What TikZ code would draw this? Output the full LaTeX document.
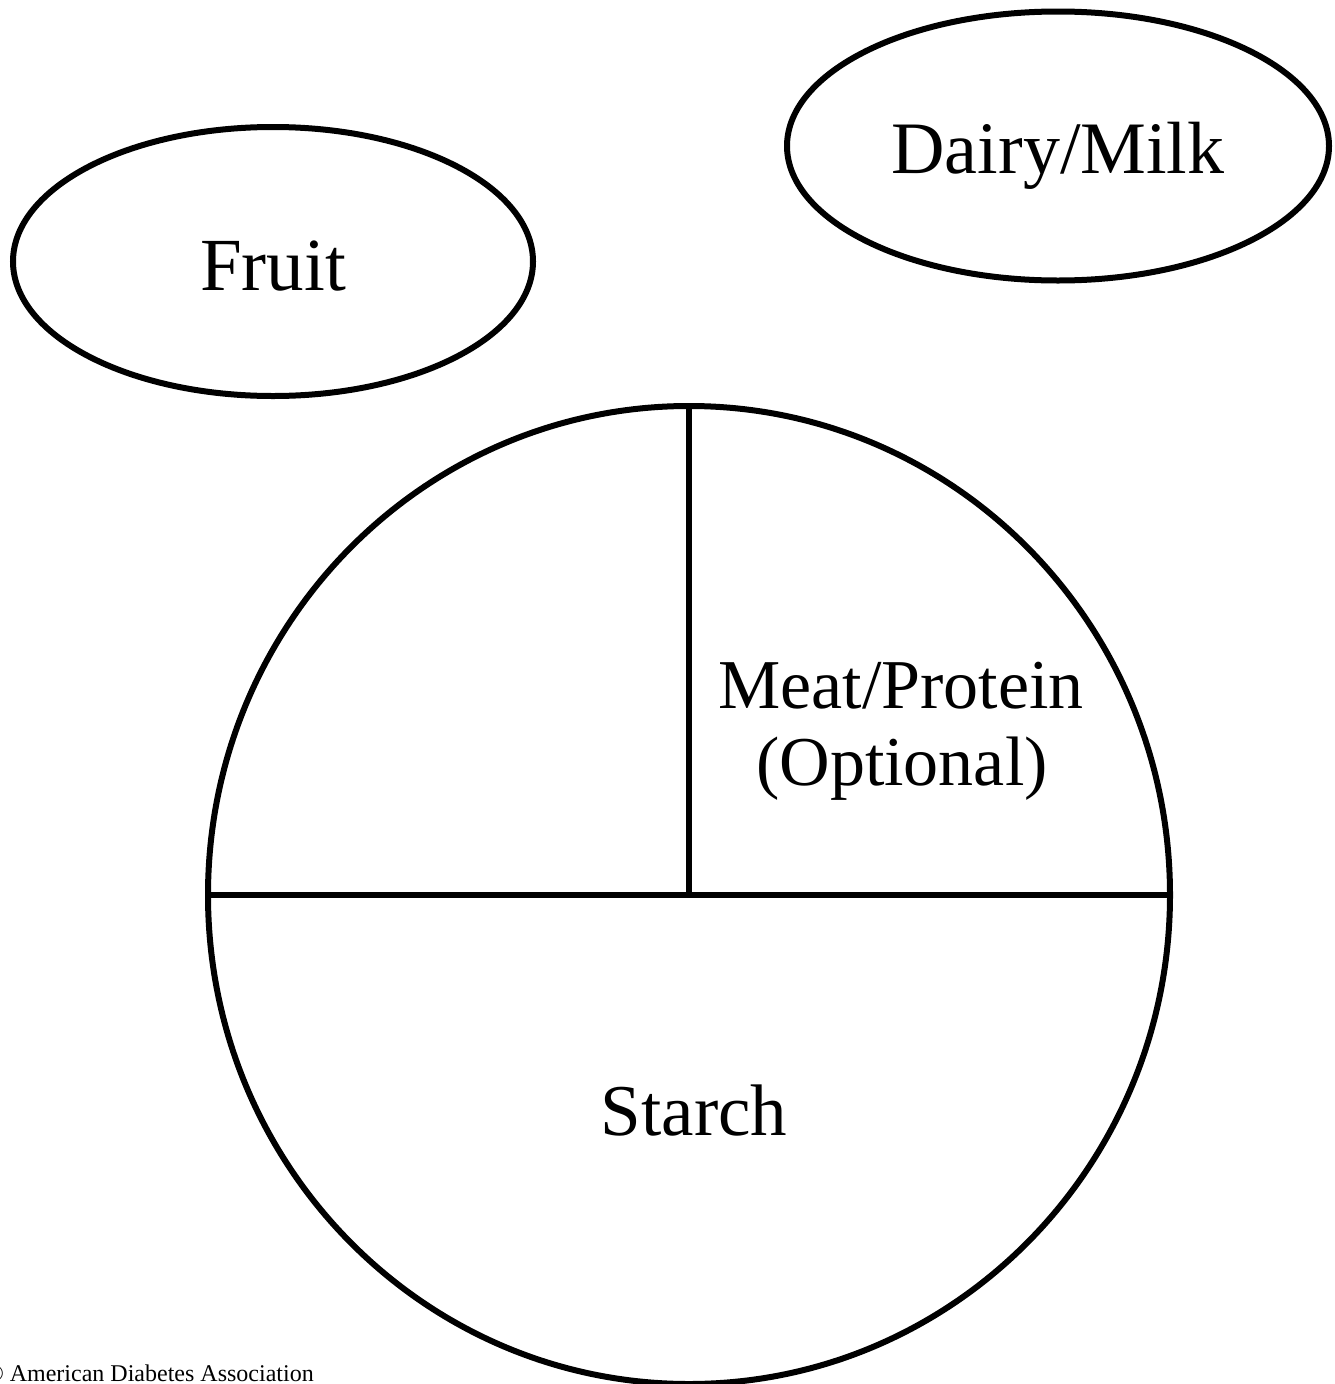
\documentclass[tikz,border=0pt]{standalone}
\usepackage{fontspec}
\setmainfont{Liberation Serif}
\usetikzlibrary{shapes.geometric}
\begin{document}
\begin{tikzpicture}[x=1pt,y=-1pt,
  outline/.style={draw=black, line width=6pt, ellipse, inner sep=0pt},
  divider/.style={draw=black, line width=5.5pt},
  label/.style={anchor=base, inner sep=0pt, text=black}]
\clip (0,0) rectangle (1335,1384);
\fill[white] (0,0) rectangle (1335,1384);
% food groups outside the plate
\node[outline, minimum width=520pt, minimum height=269pt] (fruitshape) at (273,261.5) {};
\node[outline, minimum width=542pt, minimum height=269pt] (dairyshape) at (1058,146) {};
\node[label, font=\fontsize{75}{90}\selectfont] (fruit) at (273,290) {Fruit};
\node[label, font=\fontsize{74}{89}\selectfont] (dairy) at (1058,173) {Dairy/Milk};
% plate
\node[outline, minimum width=962pt, minimum height=978pt] (plate) at (689,895) {};
\draw[divider] (plate.west) -- (plate.east);
\draw[divider] (plate.north) -- (plate.center);
\node[label, font=\fontsize{70}{77}\selectfont] (meat1) at (901,708) {Meat/Protein};
\node[label, font=\fontsize{70}{77}\selectfont] (meat2) at (902,785) {(Optional)};
\node[label, font=\fontsize{73}{88}\selectfont] (starch) at (694,1135) {Starch};
% copyright line
\node[anchor=base west, inner sep=0pt, font=\fontsize{24}{28}\selectfont] (copy) at (-14.6,1381) {© American Diabetes Association};
\end{tikzpicture}
\end{document}
